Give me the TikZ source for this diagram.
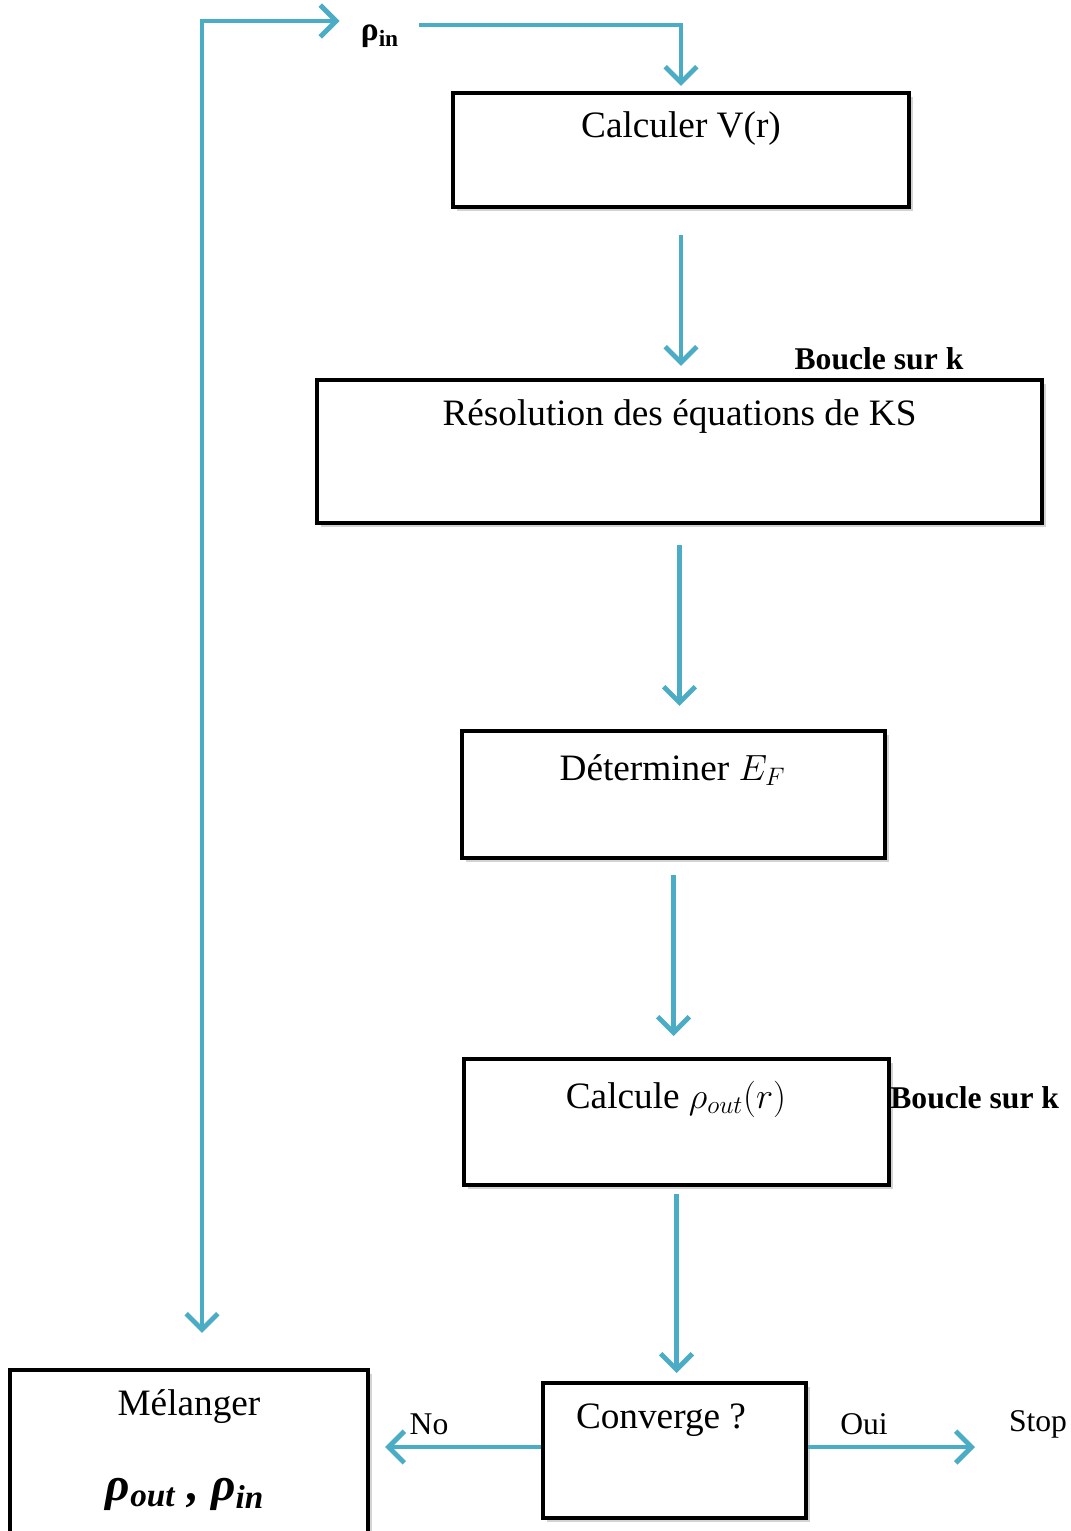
\documentclass[tikz,border=0pt]{standalone}
\usepackage{fontspec}
\setmainfont{Liberation Serif}
\usepackage{xcolor}
\usepackage{tikz}
\usetikzlibrary{arrows.meta, positioning, calc, shadows}

\definecolor{flowblue}{HTML}{4BACC6}

\begin{document}
\begin{tikzpicture}[
  box/.style   = {draw, line width=2.3pt, fill=white,
                  drop shadow={opacity=0.35, shadow xshift=2.5pt, shadow yshift=-2.5pt}},
  boxtxt/.style = {font=\fontsize{21.2}{25}\selectfont, inner sep=0pt},
  lbl/.style   = {font=\fontsize{18}{21}\selectfont, inner sep=0pt},
  loop/.style  = {font=\fontsize{18}{21}\selectfont\bfseries, inner sep=0pt},
  flow/.style  = {draw=flowblue, line width=2.8pt,
                  -{Straight Barb[length=9pt, width=18pt]}},
  flowboth/.style = {draw=flowblue, line width=2.8pt,
                  {Straight Barb[length=9pt, width=18pt]}-{Straight Barb[length=9pt, width=18pt]}}
]
\useasboundingbox (0,0) rectangle (21.42,-30.62);

%% --- Boxes ---
\node[box, minimum width=9.12cm, minimum height=2.28cm] (calc) at (13.62,-3.00)  {};
\node[box, minimum width=14.5cm, minimum height=2.86cm] (res)  at (13.59,-9.03)  {};
\node[box, minimum width=8.46cm, minimum height=2.54cm] (det)  at (13.47,-15.89) {};
\node[box, minimum width=8.5cm,  minimum height=2.52cm] (rho)  at (13.53,-22.44) {};
\node[box, minimum width=5.26cm, minimum height=2.7cm]  (conv) at (13.49,-29.01) {};
\node[box, minimum width=7.16cm, minimum height=3.3cm]  (mel)  at (3.78,-29.05)  {};

%% --- Box texts ---
\node[boxtxt] (calcT) at (13.62,-2.58)  {Calculer V(r)};
\node[boxtxt] (resT)  at (13.59,-8.34)  {Résolution des équations de KS};
\node[boxtxt] (detT)  at (13.45,-15.40) {Déterminer $E_F$};
\node[boxtxt] (rhoT)  at (13.52,-21.98) {Calcule $\rho_{out}(r)$};
\node[boxtxt] (convT) at (13.22,-28.40) {Converge ?};
\node[boxtxt] (melT)  at (3.78,-28.14)  {Mélanger};
\node[font=\fontsize{27}{30}\selectfont\bfseries\itshape, inner sep=0pt]
      (melR) at (3.70,-29.88) {ρ\textsubscript{out} , ρ\textsubscript{in}};

%% --- Free labels ---
\node[font=\fontsize{19}{22}\selectfont\bfseries, inner sep=0pt]
      (rhoin) at (7.6,-0.72) {ρ\textsubscript{in}};
\node[loop] (loop1) at (17.58,-7.18)  {Boucle sur k};
\node[loop, anchor=west] (loop2) at (17.80,-21.96) {Boucle sur k};
\node[lbl] (no)   at (8.58,-28.48)  {No};
\node[lbl] (oui)  at (17.28,-28.48) {Oui};
\node[lbl] (stop) at (20.76,-28.48) {Stop};

%% --- Loop back ---
\coordinate (loopc) at (4.04,-0.42);
\draw[flowboth, shorten <=0.7cm, shorten >=0.42cm]
  (mel.north -| loopc) -- (loopc) -- (loopc -| rhoin.west);
\draw[flow, shorten >=0.1cm] ([xshift=0.4cm]rhoin.east |- 0,-0.5) -| (calc.north);

%% --- Main chain ---
\draw[flow, shorten <=0.52cm, shorten >=0.24cm] (calc.south) -- (calc.south |- res.north);
\draw[flow, shorten <=0.40cm, shorten >=0.46cm] (res.south) -- (res.south |- det.north);
\draw[flow, shorten <=0.30cm, shorten >=0.42cm] (det.south) -- (det.south |- rho.north);
\draw[flow, shorten <=0.14cm, shorten >=0.16cm] (rho.south) -- (rho.south |- conv.north);

%% --- Decision ---
\draw[flow, shorten >=0.3cm] ([yshift=0.07cm]conv.west) -- ([yshift=0.07cm]conv.west -| mel.east);
\coordinate (stopend) at (19.5,-28.94);
\draw[flow] (conv.east |- stopend) -- (stopend);
\end{tikzpicture}
\end{document}
